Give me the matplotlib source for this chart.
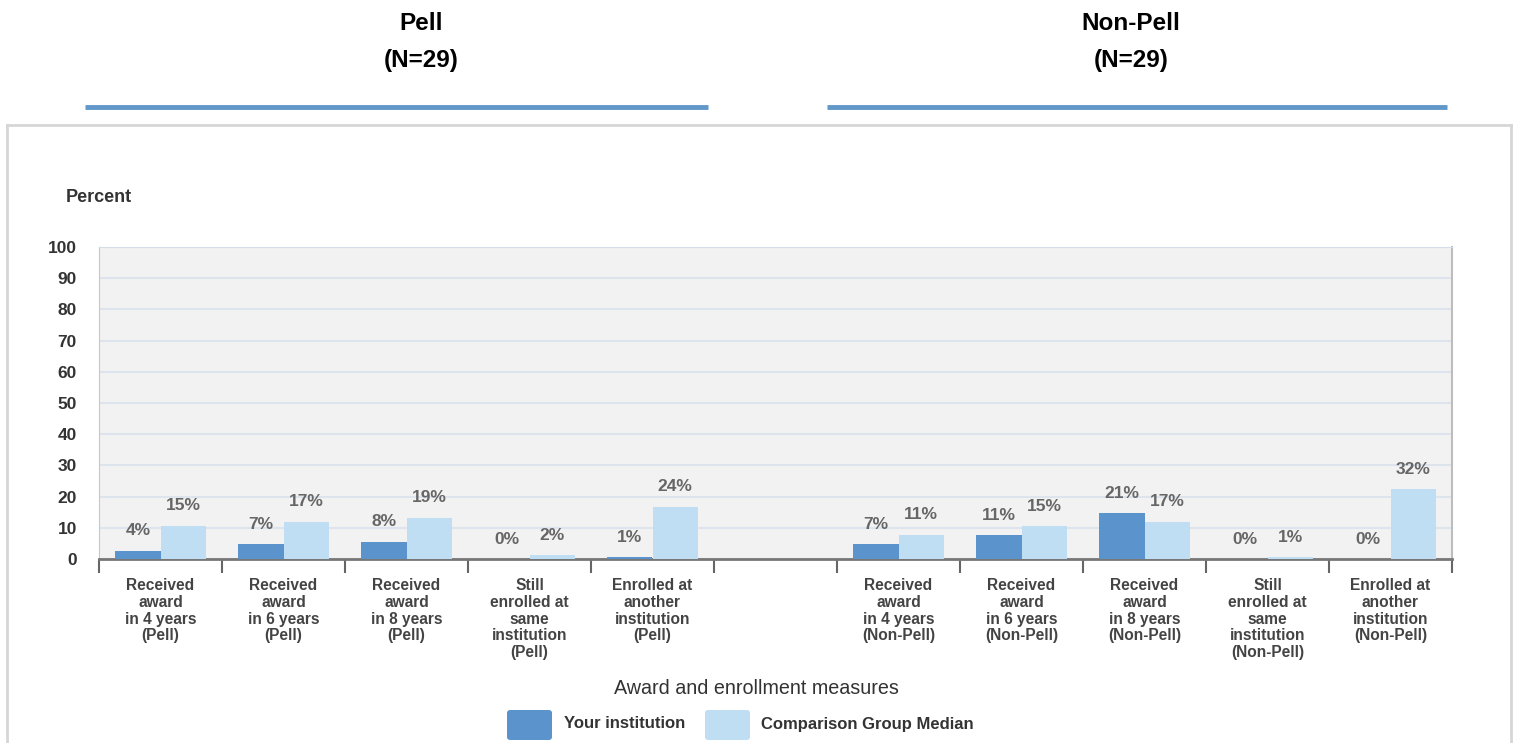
import numpy as np
import matplotlib
matplotlib.use("Agg")
import matplotlib.pyplot as plt
from matplotlib.patches import FancyBboxPatch
from matplotlib.lines import Line2D

plt.rcParams['font.family'] = ['Liberation Sans', 'DejaVu Sans']

# Data
categories = [
    "Received\naward\nin 4 years\n(Pell)",
    "Received\naward\nin 6 years\n(Pell)",
    "Received\naward\nin 8 years\n(Pell)",
    "Still\nenrolled at\nsame\ninstitution\n(Pell)",
    "Enrolled at\nanother\ninstitution\n(Pell)",
    "",
    "Received\naward\nin 4 years\n(Non-Pell)",
    "Received\naward\nin 6 years\n(Non-Pell)",
    "Received\naward\nin 8 years\n(Non-Pell)",
    "Still\nenrolled at\nsame\ninstitution\n(Non-Pell)",
    "Enrolled at\nanother\ninstitution\n(Non-Pell)",
]
# printed percentages
inst_labels = [4, 7, 8, 0, 1, None, 7, 11, 21, 0, 0]
comp_labels = [15, 17, 19, 2, 24, None, 11, 15, 17, 1, 32]
# bar heights as drawn in the picture
inst_heights = [2.7, 4.7, 5.5, 0, 0.5, 0, 4.7, 7.6, 14.7, 0, 0]
comp_heights = [10.6, 11.9, 13.2, 1.2, 16.7, 0, 7.7, 10.5, 11.9, 0.5, 22.3]

group_titles = ["Pell\n(N=29)", "Non-Pell\n(N=29)"]
series_names = ["Your institution", "Comparison Group Median"]

DARK = "#5b93cd"
LIGHT = "#bfdef3"
W, H = 1515, 743

fig = plt.figure(figsize=(W / 100, H / 100), dpi=100)

# overlay in pixel coords for decorations
ov = fig.add_axes([0, 0, 1, 1], zorder=0)
ov.set_xlim(0, W)
ov.set_ylim(H, 0)
ov.axis("off")

# outer box (no bottom edge visible)
for xs, ys in [([7, 7], [125, H + 5]), ([7, 1511], [125, 125]), ([1511, 1511], [125, H + 5])]:
    ov.add_line(Line2D(xs, ys, color="#d6d6d6", lw=2))

# group headers
for title, xc, (x0, x1) in zip(group_titles, [421, 1131], [(85, 708), (827, 1447)]):
    t1, t2 = title.split("\n")
    ov.text(xc, 23, t1, ha="center", va="center", fontsize=17.5, fontweight="bold", color="black")
    ov.text(xc, 61, t2, ha="center", va="center", fontsize=17.5, fontweight="bold", color="black")
    ov.add_line(Line2D([x0, x1], [107, 107], color="#6198c9", lw=3.5, solid_capstyle="butt"))

ov.text(66, 197, "Percent", ha="left", va="center", fontsize=13, fontweight="bold", color="#333333")

# main chart
ax = fig.add_axes([99 / W, 1 - 559 / H, (1452 - 99) / W, (559 - 247) / H], zorder=1)
ax.set_facecolor("#f2f2f2")
ax.set_xlim(-0.5, len(categories) - 0.5)
ax.set_ylim(0, 100)

x = np.arange(len(categories))
bw = 0.366
ax.bar(x - bw / 2, inst_heights, bw, color=DARK, zorder=3)
ax.bar(x + bw / 2, comp_heights, bw, color=LIGHT, zorder=3)

for xi, h, lab in zip(x - bw / 2, inst_heights, inst_labels):
    if lab is not None:
        ax.annotate(f"{lab}%", (xi, h), xytext=(0, 20), textcoords="offset pixels",
                    ha="center", va="center", fontsize=12.5, fontweight="bold", color="#666666")
for xi, h, lab in zip(x + bw / 2, comp_heights, comp_labels):
    if lab is not None:
        ax.annotate(f"{lab}%", (xi, h), xytext=(0, 20), textcoords="offset pixels",
                    ha="center", va="center", fontsize=12.5, fontweight="bold", color="#666666")

ax.set_yticks(np.arange(0, 101, 10))
ax.yaxis.grid(True, color="#dde4ee", lw=1.5, zorder=0)
ax.set_axisbelow(True)
ax.tick_params(axis="y", length=0, pad=16, labelsize=12.5, labelcolor="#333333")
for lab in ax.get_yticklabels():
    lab.set_fontweight("bold")

ax.set_xticks(x)
ax.set_xticklabels(categories, fontsize=11.2, fontweight="bold", color="#444444",
                   linespacing=1.13, va="top")
ax.tick_params(axis="x", which="major", length=0, pad=14)
ax.set_xticks(np.arange(-0.5, len(categories)), minor=True)
ax.tick_params(axis="x", which="minor", length=10, width=1.5, color="#666666", direction="out")

ax.spines["left"].set_color("#c8c8c8")
ax.spines["top"].set_color("#d5dce8")
ax.spines["right"].set_color("#bdbdbd")
ax.spines["right"].set_linewidth(1.5)
ax.spines["bottom"].set_color("#777777")
ax.spines["bottom"].set_linewidth(2)

# axis title and legend
ov.text(756, 688, "Award and enrollment measures", ha="center", va="center",
        fontsize=14.25, color="#333333")
for (x0, x1, tx), name, col in zip([(507, 552, 564), (705, 750, 761)], series_names, [DARK, LIGHT]):
    ov.add_patch(FancyBboxPatch((x0 + 3, 710 + 3), x1 - x0 - 6, 24, boxstyle="round,pad=3",
                                fc=col, ec="none"))
    ov.text(tx, 724, name, ha="left", va="center", fontsize=12, fontweight="bold", color="#333333")

fig.savefig("out.png", dpi=100)
